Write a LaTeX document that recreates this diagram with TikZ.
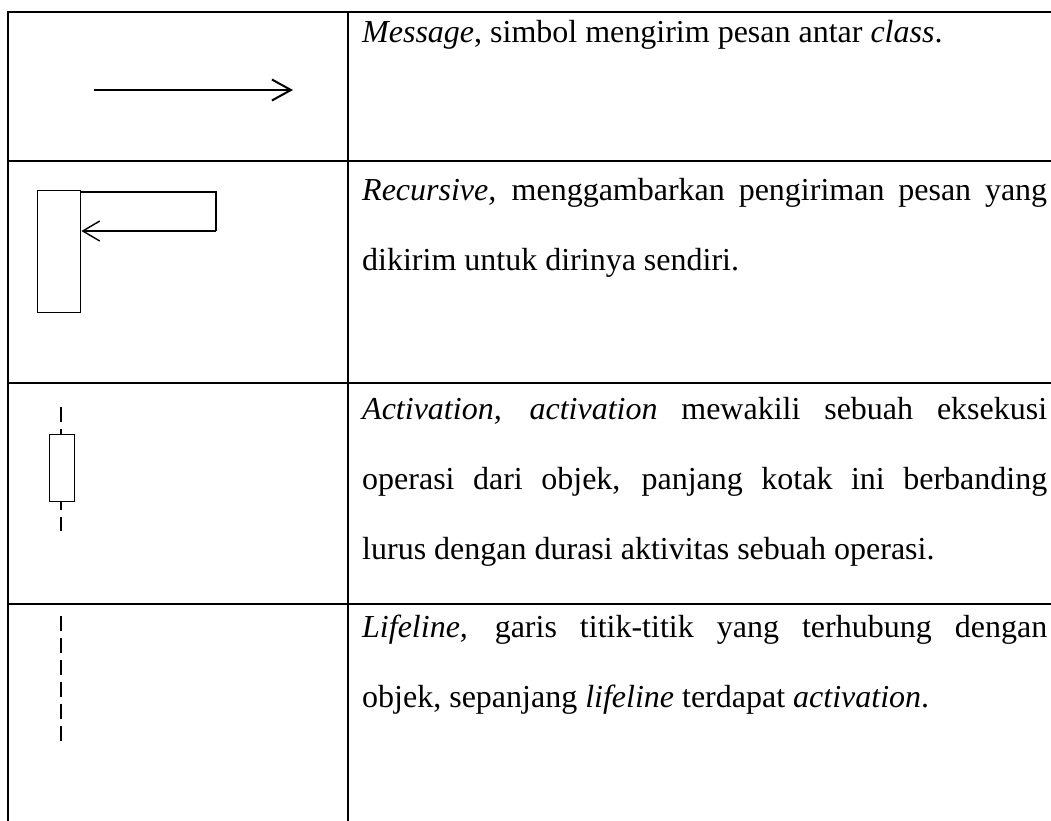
\documentclass[tikz,border=0pt]{standalone}
\usepackage{fontspec}
\setmainfont{Liberation Serif}
\usetikzlibrary{arrows.meta}
\begin{document}
\begin{tikzpicture}[x=1pt,y=-1pt,
  grid/.style={line width=2.7pt, line cap=rect},
  msg/.style={line width=2pt, -{Straight Barb[length=19pt,width=21pt,line width=2pt]}},
  rec/.style={line width=1.4pt, -{Straight Barb[length=17pt,width=20pt,line width=1.4pt]}},
  boxsym/.style={draw, line width=1.4pt, fill=white, inner sep=0pt, anchor=north west},
  life/.style={line width=1.3pt, dash pattern=on 15pt off 7pt},
  desc/.style={anchor=base west, inner sep=0pt, text width=685pt, align=justify,
    font=\fontsize{32}{70}\selectfont}]
\useasboundingbox (0,0) rectangle (1051,820);
% table grid
\coordinate (tl) at (8,12);
\coordinate (tr) at (1051,12);
\coordinate (bl) at (8,820);
\coordinate (dt) at (348,12);
\coordinate (db) at (348,820);
\coordinate (h1l) at (8,161);  \coordinate (h1r) at (1051,161);
\coordinate (h2l) at (8,383);  \coordinate (h2r) at (1051,383);
\coordinate (h3l) at (8,604);  \coordinate (h3r) at (1051,604);
\draw[grid] (tl) -- (tr);
\draw[grid] (tl) -- (bl);
\draw[grid] (dt) -- (db);
\draw[grid] (h1l) -- (h1r);
\draw[grid] (h2l) -- (h2r);
\draw[grid] (h3l) -- (h3r);
% row 1: message
\coordinate (m1) at (94,90);
\coordinate (m2) at (293,90);
\draw[msg] (m1) -- (m2);
% row 2: recursive
\node[boxsym, minimum width=43pt, minimum height=122pt] (rbox) at (37,190) {};
\coordinate (r1) at (216,192);
\coordinate (r2) at (216,231);
\draw[line width=1.4pt] (rbox.east |- r1) -- (r1) -- (r2);
\draw[rec] (r2) -- (rbox.east |- r2);
% row 3: activation
\coordinate (a1) at (61,407);
\coordinate (a2) at (61,531);
\draw[life] (a1) -- (a2);
\node[boxsym, minimum width=25pt, minimum height=67pt] (abox) at (48.5,434) {};
% row 4: lifeline
\coordinate (l1) at (61,616);
\coordinate (l2) at (61,741);
\draw[life] (l1) -- (l2);
% texts
\node[desc] (t1) at (362,42) {\textit{Message}, simbol mengirim pesan antar \textit{class}.};
\node[desc] (t2) at (362,200) {\textit{Recursive,} menggambarkan pengiriman pesan yang\linebreak dikirim untuk dirinya sendiri.};
\node[desc] (t3) at (362,419) {\textit{Activation, activation} mewakili sebuah eksekusi\linebreak operasi dari objek, panjang kotak ini berbanding\linebreak lurus dengan durasi aktivitas sebuah operasi.};
\node[desc] (t4) at (362,637) {\textit{Lifeline,} garis titik-titik yang terhubung dengan\linebreak objek, sepanjang \textit{lifeline} terdapat \textit{activation}.};
\end{tikzpicture}
\end{document}
